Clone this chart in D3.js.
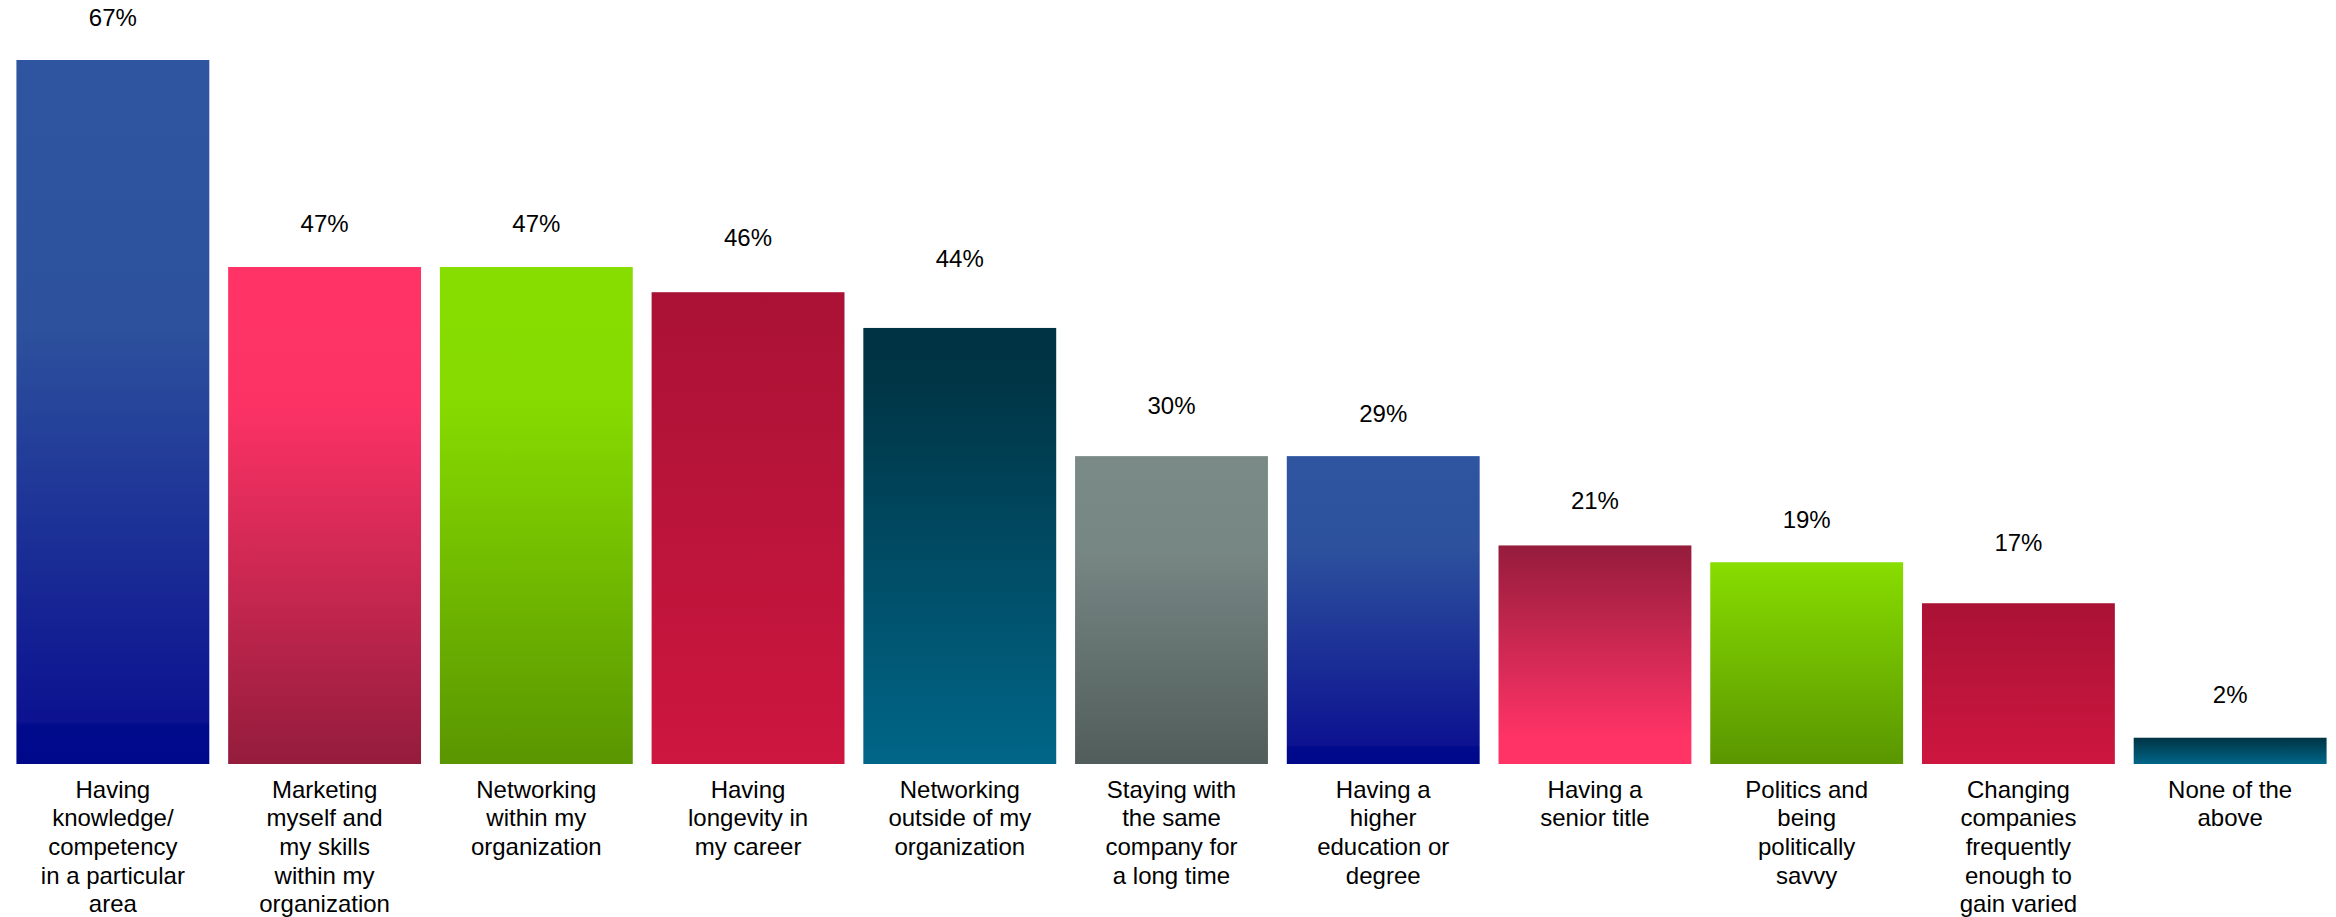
<!DOCTYPE html>
<html>
<head>
<meta charset="utf-8">
<script src="https://cdn.jsdelivr.net/npm/d3@7"></script>
<style>
  html, body { margin: 0; padding: 0; background: #fff; overflow: hidden; }
  svg { display: block; }
  text { font-family: "Liberation Sans", Arial, sans-serif; fill: #000; }
</style>
</head>
<body>
<svg id="chart" width="2336" height="917"></svg>
<script>
// ---- data ----
const categories = [
  "Having\nknowledge/\ncompetency\nin a particular\narea",
  "Marketing\nmyself and\nmy skills\nwithin my\norganization",
  "Networking\nwithin my\norganization",
  "Having\nlongevity in\nmy career",
  "Networking\noutside of my\norganization",
  "Staying with\nthe same\ncompany for\na long time",
  "Having a\nhigher\neducation or\ndegree",
  "Having a\nsenior title",
  "Politics and\nbeing\npolitically\nsavvy",
  "Changing\ncompanies\nfrequently\nenough to\ngain varied",
  "None of the\nabove"
];
// bar heights as drawn
const barValues = [67, 47.3, 47.3, 44.9, 41.5, 29.3, 29.3, 20.8, 19.2, 15.3, 2.5];
// printed data labels
const labelValues = [67, 47, 47, 46, 44, 30, 29, 21, 19, 17, 2];

// ---- styles: vertical gradient stops per bar ----
const gradientStops = [
  [[0, "#2F55A0"], [0.38, "#2D519D"], [0.94, "#0C1290"], [0.945, "#000B8C"], [1, "#00088A"]],
  [[0, "#FF3366"], [0.28, "#FC3265"], [1, "#941C3C"]],
  [[0, "#88DD00"], [0.28, "#86DA00"], [1, "#5A9600"]],
  [[0, "#AA1235"], [1, "#CD1640"]],
  [[0, "#003344"], [0.12, "#003546"], [1, "#006688"]],
  [[0, "#7A8A87"], [0.3, "#778784"], [1, "#515D5B"]],
  [[0, "#2F55A0"], [0.3, "#2D519D"], [0.94, "#0C1290"], [0.945, "#000A8C"], [1, "#00088A"]],
  [[0, "#951C3C"], [0.88, "#FF3366"], [1, "#FF3366"]],
  [[0, "#88DD00"], [1, "#5A9600"]],
  [[0, "#AA1235"], [1, "#CD1640"]],
  [[0, "#003344"], [1, "#006688"]]
];

const svg = d3.select("#chart");

const x = d3.scaleBand()
  .domain(d3.range(categories.length))
  .range([7, 2336])
  .paddingInner(0.089)
  .paddingOuter(0.0445);

const y = d3.scaleLinear()
  .domain([0, d3.max(barValues)])
  .range([764, 60]);

const defs = svg.append("defs");
gradientStops.forEach((stops, i) => {
  const g = defs.append("linearGradient")
    .attr("id", "grad" + i)
    .attr("x1", 0).attr("y1", 0).attr("x2", 0).attr("y2", 1);
  stops.forEach(s => g.append("stop").attr("offset", s[0]).attr("stop-color", s[1]));
});

const data = categories.map((c, i) => ({ i, c, v: barValues[i], lab: labelValues[i] }));

svg.append("g").selectAll("rect")
  .data(data)
  .join("rect")
  .attr("x", d => x(d.i))
  .attr("width", x.bandwidth())
  .attr("y", d => y(d.v))
  .attr("height", d => y(0) - y(d.v))
  .attr("fill", d => `url(#grad${d.i})`);

// label sits above the higher of the bar top and its own value
svg.append("g").selectAll("text")
  .data(data)
  .join("text")
  .attr("x", d => x(d.i) + x.bandwidth() / 2)
  .attr("y", d => y(Math.max(d.v, d.lab)) - 34.5)
  .attr("text-anchor", "middle")
  .attr("font-size", 24)
  .text(d => d.lab + "%");

const catG = svg.append("g").selectAll("text")
  .data(data)
  .join("text")
  .attr("x", d => x(d.i) + x.bandwidth() / 2)
  .attr("y", y(0) + 33.5)
  .attr("text-anchor", "middle")
  .attr("font-size", 24);

catG.selectAll("tspan")
  .data(d => d.c.split("\n").map(line => ({ line, cx: x(d.i) + x.bandwidth() / 2 })))
  .join("tspan")
  .attr("x", t => t.cx)
  .attr("dy", (t, j) => j === 0 ? 0 : 28.7)
  .text(t => t.line);
</script>
</body>
</html>
